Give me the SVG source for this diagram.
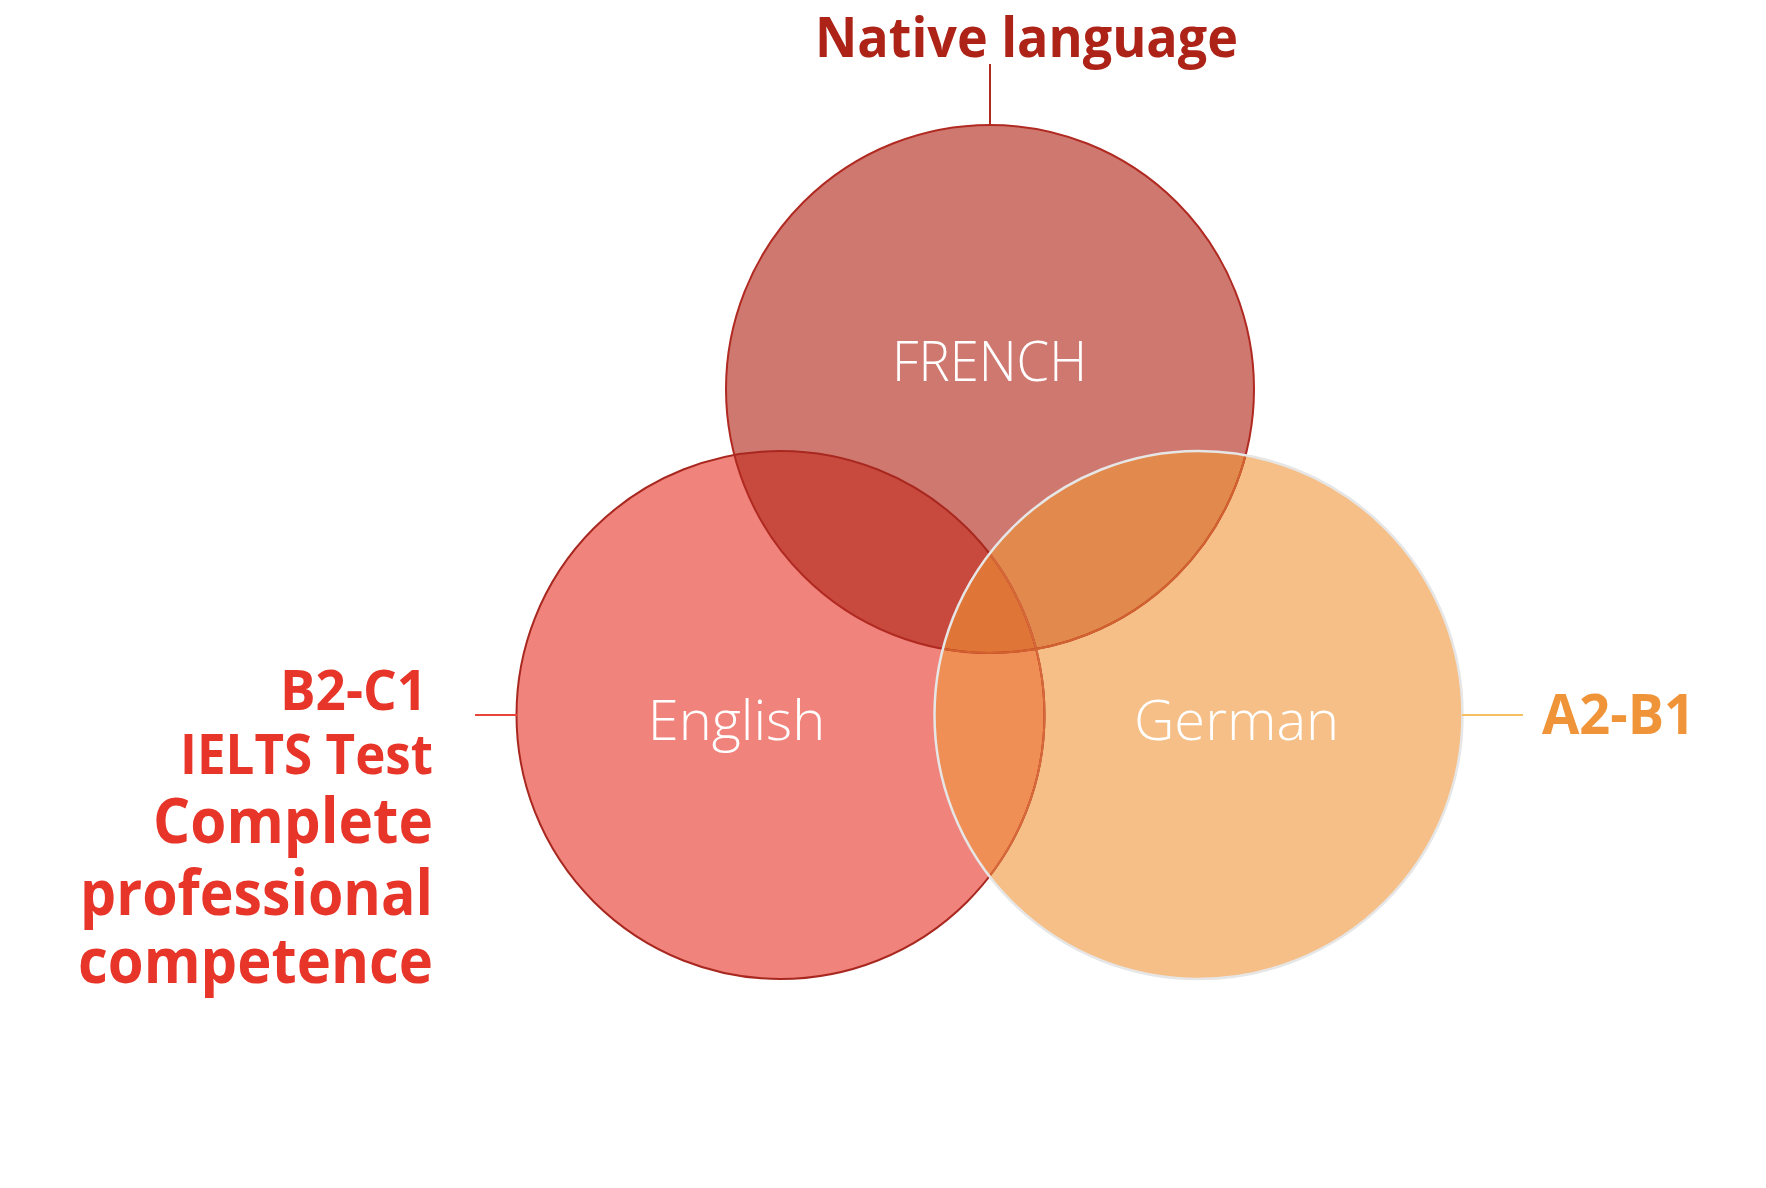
<svg xmlns="http://www.w3.org/2000/svg" width="1766" height="1188" viewBox="0 0 1766 1188">
<style>
.lbl{font-family:"Open Sans","Noto Sans","Liberation Sans",sans-serif;font-weight:300;font-size:56px;fill:#ffffff;text-anchor:middle}
.big{font-family:"Open Sans","Noto Sans","Liberation Sans",sans-serif;font-weight:700}
.conn{fill:none;stroke-width:2}
</style>
<defs>
<circle id="cF" cx="990" cy="389" r="264"/>
<circle id="cE" cx="780.5" cy="715" r="264"/>
<circle id="cG" cx="1198.5" cy="715" r="264"/>
<clipPath id="clipF"><use href="#cF"/></clipPath>
<clipPath id="clipE"><use href="#cE"/></clipPath>
<clipPath id="clipG"><use href="#cG"/></clipPath>
</defs>
<rect width="1766" height="1188" fill="#ffffff"/>

<g id="english">
<use href="#cE" fill="#F0837B"/>
</g>
<g id="german">
<use href="#cG" fill="#F5BF87"/>
<use href="#cG" fill="#F08F55" clip-path="url(#clipE)"/>
</g>
<g id="french">
<use href="#cF" fill="#CF7870"/>
<use href="#cF" fill="#C84A3E" clip-path="url(#clipE)"/>
<use href="#cF" fill="#E28A4E" clip-path="url(#clipG)"/>
<g clip-path="url(#clipE)"><use href="#cF" fill="#E07538" clip-path="url(#clipG)"/></g>
</g>

<g id="outlines" fill="none">
<use href="#cE" stroke="#A82820" stroke-width="2"/>
<use href="#cF" stroke="#B02A22" stroke-width="2"/>
<g clip-path="url(#clipG)">
<use href="#cE" stroke="#D86A3A" stroke-width="2"/>
<use href="#cF" stroke="#D2622E" stroke-width="2"/>
</g>
<use href="#cG" stroke="#E6E6E6" stroke-width="2.5"/>
</g>

<g id="connectors">
<line class="conn" x1="990" y1="64" x2="990" y2="125" stroke="#B02A22"/>
<line class="conn" x1="475" y1="715" x2="517" y2="715" stroke="#E8453A"/>
<line class="conn" x1="1462" y1="715" x2="1523" y2="715" stroke="#F5C060"/>
</g>

<g id="label-french"><text class="lbl" x="989.5" y="381" textLength="195" lengthAdjust="spacingAndGlyphs">FRENCH</text></g>
<g id="label-english"><text class="lbl" x="736.5" y="740">English</text></g>
<g id="label-german"><text class="lbl" x="1236.5" y="740">German</text></g>

<g id="note-native"><text class="big" x="815" y="57" font-size="56" fill="#AE2318" textLength="423" lengthAdjust="spacingAndGlyphs">Native language</text></g>
<g id="note-a2b1"><text class="big" x="1542" y="734" font-size="55" fill="#F0943A" textLength="153" lengthAdjust="spacingAndGlyphs">A2-B1</text></g>
<g id="note-b2c1" fill="#E8352A">
<text class="big" x="280" y="710" font-size="56" textLength="147" lengthAdjust="spacingAndGlyphs">B2-C1</text>
<text class="big" x="180" y="774" font-size="55" textLength="253" lengthAdjust="spacingAndGlyphs">IELTS Test</text>
<text class="big" x="153" y="843" font-size="63" textLength="280" lengthAdjust="spacingAndGlyphs">Complete</text>
<text class="big" x="80" y="915" font-size="63" textLength="353" lengthAdjust="spacingAndGlyphs">professional</text>
<text class="big" x="78" y="983" font-size="63" textLength="355" lengthAdjust="spacingAndGlyphs">competence</text>
</g>
</svg>
